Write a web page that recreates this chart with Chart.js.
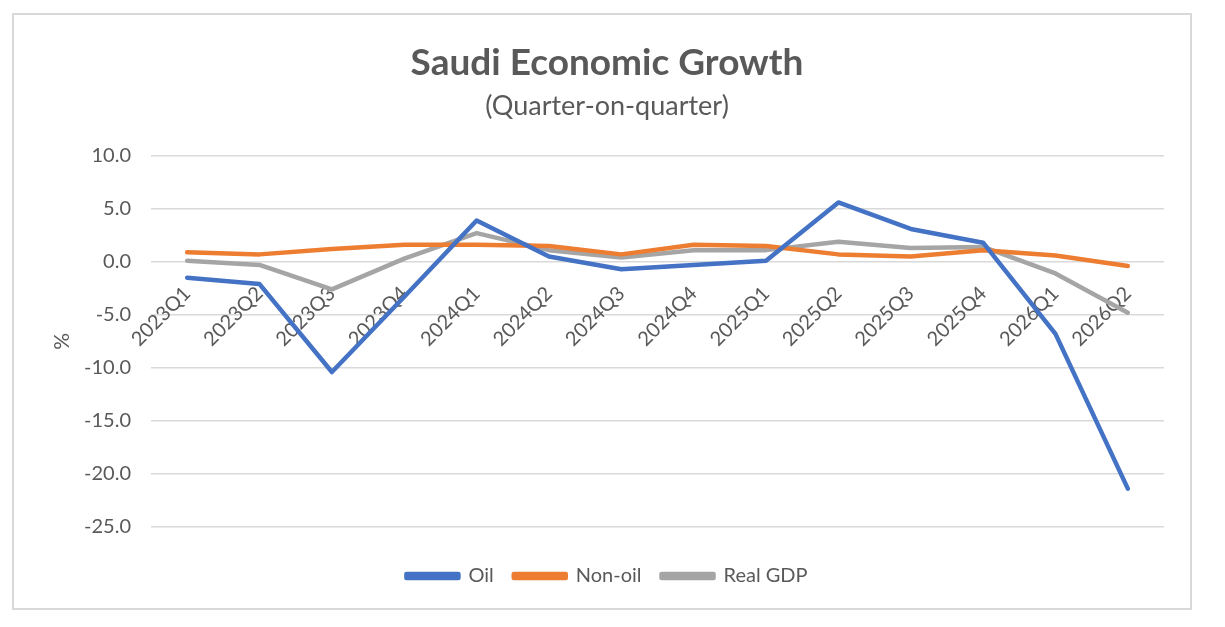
<!DOCTYPE html>
<html>
<head>
<meta charset="utf-8">
<script src="https://cdn.jsdelivr.net/npm/chart.js@4/dist/chart.umd.min.js"></script>
<style>
  html, body { margin: 0; padding: 0; background: #fff; }
  .frame {
    position: absolute; left: 12px; top: 13px;
    width: 1180px; height: 597px;
    border: 2px solid #d9d9d9; box-sizing: border-box;
  }
  canvas { display: block; }
</style>
</head>
<body>
<div class="frame"><canvas id="growthChart"></canvas></div>
<script>
document.addEventListener('DOMContentLoaded', function() {

    const quarters = ['2023Q1', '2023Q2', '2023Q3', '2023Q4', '2024Q1', '2024Q2', '2024Q3',
        '2024Q4', '2025Q1', '2025Q2', '2025Q3', '2025Q4', '2026Q1', '2026Q2'];
    const oil = [-1.5, -2.1, -10.4, -3.3, 3.9, 0.5, -0.7, -0.3, 0.1, 5.6, 3.1, 1.8, -6.8, -21.4];
    const nonOil = [0.9, 0.7, 1.2, 1.6, 1.6, 1.5, 0.7, 1.6, 1.5, 0.7, 0.5, 1.1, 0.6, -0.4];
    const realGdp = [0.1, -0.3, -2.6, 0.3, 2.7, 1.1, 0.4, 1.1, 1.1, 1.9, 1.3, 1.4, -1.1, -4.8];

    const textColor = '#595959';
    const gridColor = '#d9d9d9';
    const font = "Lato, 'Open Sans', sans-serif";

    function lineSet(label, data, color) {
        return {
            label: label,
            data: data,
            borderColor: color,
            backgroundColor: color,
            borderWidth: 4.5,
            borderCapStyle: 'round',
            borderJoinStyle: 'round',
            pointRadius: 0,
            tension: 0,
            fill: false
        };
    }

    const canvas = document.getElementById('growthChart');
    new Chart(canvas, {
        type: 'line',
        data: {
            labels: quarters,
            datasets: [
                lineSet('Oil', oil, '#4472C4'),
                lineSet('Non-oil', nonOil, '#ED7D31'),
                lineSet('Real GDP', realGdp, '#A5A5A5')
            ]
        },
        options: {
            animation: false,
            responsive: true,
            maintainAspectRatio: false,
            layout: { padding: { left: 36, right: 26, bottom: 12 } },
            scales: {
                x: {
                    position: { y: 0 },
                    offset: true,
                    grid: { display: false },
                    border: { display: false },
                    ticks: {
                        color: textColor,
                        font: { family: font, size: 20 },
                        minRotation: 45,
                        maxRotation: 45,
                        autoSkip: false,
                        padding: 12
                    }
                },
                y: {
                    min: -25,
                    max: 10,
                    afterFit: (scale) => { scale.width = 101; },
                    grid: { color: gridColor, lineWidth: 1.5, drawTicks: false },
                    border: { display: false },
                    ticks: {
                        stepSize: 5,
                        color: textColor,
                        padding: 20,
                        font: { family: font, size: 20 },
                        callback: (v) => v.toFixed(1)
                    },
                    title: {
                        display: true,
                        text: '%',
                        color: textColor,
                        font: { family: font, size: 21 },
                        padding: { top: 0, bottom: 0 }
                    }
                }
            },
            plugins: {
                tooltip: { enabled: false },
                title: {
                    display: true,
                    text: 'Saudi Economic Growth',
                    color: textColor,
                    font: { family: font, size: 37, weight: 'bold' },
                    padding: { top: 26, bottom: 5 }
                },
                subtitle: {
                    display: true,
                    text: '(Quarter-on-quarter)',
                    color: textColor,
                    font: { family: font, size: 27 },
                    padding: { top: 0, bottom: 33 }
                },
                legend: {
                    position: 'bottom',
                    title: {
                        display: true,
                        text: '',
                        font: { size: 1 },
                        padding: { top: 0, bottom: 18 }
                    },
                    labels: {
                        color: textColor,
                        font: { family: font, size: 20 },
                        boxWidth: 52,
                        boxHeight: 4,
                        padding: 20
                    }
                }
            }
        }
    });
});
</script>
</body>
</html>
